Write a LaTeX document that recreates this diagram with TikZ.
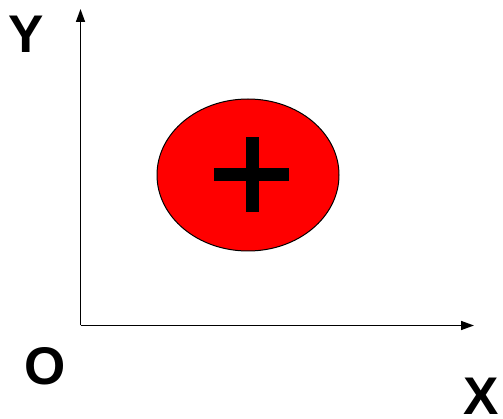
\documentclass[tikz,border=0pt]{standalone}
\usepackage{fontspec}
\setmainfont{Liberation Sans}
\usetikzlibrary{arrows.meta,shapes.geometric}
\tikzset{
  axis/.style={line width=1.5pt,-{Triangle[width=9pt,length=13pt]}},
  axlabel/.style={font=\fontsize{53}{53}\selectfont\bfseries,inner sep=0pt,anchor=center},
  blob/.style={ellipse,draw=black,line width=1pt,fill=red,minimum width=182pt,minimum height=152pt,inner sep=0pt},
  bar/.style={fill=black,draw=none}
}
\begin{document}
\begin{tikzpicture}[x=1pt,y=-1pt]
\useasboundingbox (0,0) rectangle (503,419);
\coordinate (o) at (80.5,325.5);
\coordinate (ytip) at (80.5,9);
\coordinate (xtip) at (474,325.5);
\draw[axis] (o) -- (ytip);
\draw[axis] (o) -- (xtip);
\node[axlabel] (ly) at (26,34) {Y};
\node[axlabel] (lo) at (45,366.5) {O};
\node[axlabel] (lx) at (481,396) {X};
\node[blob] (e) at (248,175) {};
\fill[bar] (214,168) rectangle (289,181);
\fill[bar] (246,137) rectangle (259,212);
\end{tikzpicture}
\end{document}
